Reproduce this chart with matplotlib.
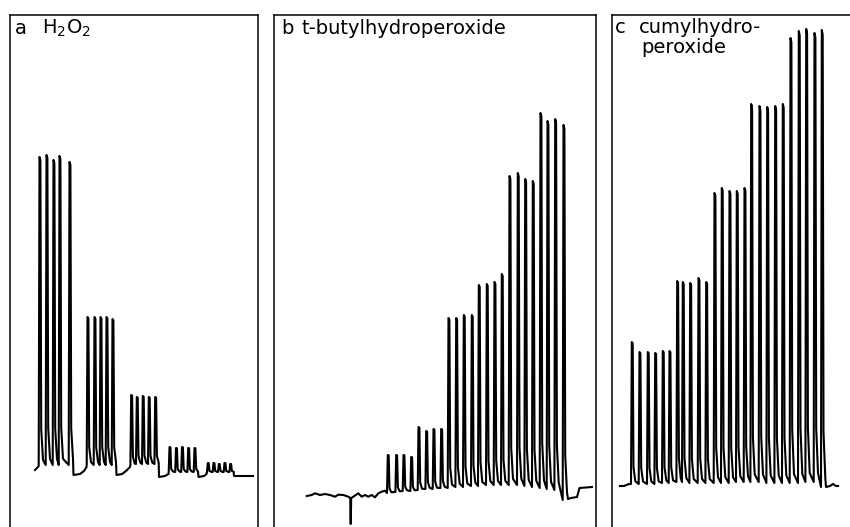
import numpy as np
import matplotlib.pyplot as plt

# recorder traces, x = chart position, y = detector signal (arbitrary units)

# a: H2O2
a_peak_x = [30, 37, 44, 50, 60,
            78, 85, 91, 97, 103,
            121.7, 127.3, 133.3, 139.3, 145.7,
            160, 166.5, 172.5, 178.7, 185,
            198.3, 204, 209.3, 215, 220.7]
a_peak_top = [370, 372, 367, 371, 365,
              210, 210, 210, 210, 208,
              132, 130, 131, 130, 130,
              80, 79, 80, 79, 79,
              64, 64, 63, 64, 63]
a_trough = [61, 62, 62, 62, 62,
            62, 62, 62, 62, 62,
            62, 63, 63, 63, 63,
            55, 55, 55, 55, 55,
            55, 55, 55, 55, 55]
a_base_x = [25, 27, 63.5, 70, 74, 76.5, 106.5, 112, 116, 120,
            149, 155, 158.5, 188.5, 194, 196.5, 224, 243]
a_base_y = [57, 59, 52, 53, 56, 60, 52, 53, 56, 60,
            50, 51, 53, 50, 51, 53, 51, 51]

# b: t-butylhydroperoxide
b_peak_x = [114.3, 122.7, 130, 137.7,
            145, 152.7, 160, 167.7,
            175, 182.7, 190.3, 198.3,
            205.3, 213.3, 221, 228.3,
            236, 244.3, 251.7, 259.3,
            267, 274, 281.7, 290]
b_peak_top = [72, 72, 72, 70,
              100, 96, 98, 98,
              209, 209, 212, 212,
              242, 243, 245, 253,
              351, 354, 348, 346,
              414, 406, 408, 402]
b_trough = [34, 35, 36, 36,
            37, 38, 38, 39,
            39, 40, 40, 41,
            41, 42, 42, 42,
            42, 42, 41, 40,
            39, 38, 37, 27]
b_base_x = [32.7, 37.7, 41, 46, 51, 56, 61, 64.3, 69.3, 74.3, 76.2, 76.7, 77.2,
            79.3, 84.3, 87.7, 91, 94.3, 97.7, 101, 104.3, 107.7, 111,
            294, 297, 303, 305.5, 318]
b_base_y = [31, 32, 33.7, 32, 33, 32, 30.3, 32.3, 32, 30.3, 29, 3, 29,
            30.3, 33.7, 30.3, 32, 30.3, 32, 29.7, 33.7, 35.3, 36.3,
            28, 29, 30, 39, 40]

# c: cumylhydroperoxide
c_peak_x = [20.3, 28, 36.3, 43.7, 51.3, 58,
            65.7, 71.3, 78.7, 87, 94.7,
            103, 110.3, 118, 125.3, 133,
            139.7, 148, 155.7, 163.7, 171.3,
            179, 187.3, 194.7, 203, 210.3]
c_peak_top = [185, 175, 175, 174, 176, 176,
              246, 245, 244, 249, 245,
              334, 339, 336, 336, 339,
              423, 421, 420, 421, 423,
              489, 496, 498, 494, 497]
c_trough = [43, 43, 43, 43, 44, 44,
            45, 45, 44, 44, 44,
            44, 44, 44, 45, 45,
            45, 45, 44, 44, 44,
            44, 44, 45, 45, 40]
c_base_x = [8, 12, 17, 214, 218, 221, 224, 226]
c_base_y = [41, 41, 43, 40, 41, 43, 41, 41]


def trace(px, top, trough, bx, by):
    xs = list(bx)
    ys = list(by)
    for x, t, b in zip(px, top, trough):
        h = t - b
        xs += [x - 1.3, x - 0.5, x + 0.4, x + 1.2, x + 3.0]
        ys += [b, t, t - 0.01 * h, b + 0.12 * h, b + 0.02 * h]
    order = np.argsort(xs, kind='stable')
    return np.array(xs)[order], np.array(ys)[order]


fig = plt.figure(figsize=(8.5, 5.27), dpi=100)
W, H = 850.0, 527.0
top_px = 15

panels = [
    (10, 258, a_peak_x, a_peak_top, a_trough, a_base_x, a_base_y),
    (274, 596, b_peak_x, b_peak_top, b_trough, b_base_x, b_base_y),
    (612, 850, c_peak_x, c_peak_top, c_trough, c_base_x, c_base_y),
]

axes = []
for left, right, px, pt, tr, bx, by in panels:
    ax = fig.add_axes([left / W, 0, (right - left) / W, 1 - top_px / H])
    x, y = trace(px, pt, tr, bx, by)
    ax.plot(x, y, color='black', lw=1.5, solid_joinstyle='round')
    ax.set_xlim(0, right - left)
    ax.set_ylim(0, H - top_px)
    ax.set_xticks([])
    ax.set_yticks([])
    ax.spines['bottom'].set_visible(False)
    for s in ['left', 'right', 'top']:
        ax.spines[s].set_linewidth(1.1)
    axes.append(ax)

axes[2].spines['right'].set_visible(False)

fs = 14
axes[0].text(5, 493, 'a', fontsize=fs, va='baseline')
axes[0].text(32, 493, 'H$_2$O$_2$', fontsize=fs, va='baseline')
axes[1].text(7, 493, 'b', fontsize=fs, va='baseline')
axes[1].text(27, 493, 't-butylhydroperoxide', fontsize=fs, va='baseline')
axes[2].text(3, 494, 'c', fontsize=fs, va='baseline')
axes[2].text(27, 494, 'cumylhydro-', fontsize=fs, va='baseline')
axes[2].text(29, 474, 'peroxide', fontsize=fs, va='baseline')

fig.savefig('out.png', dpi=100)
